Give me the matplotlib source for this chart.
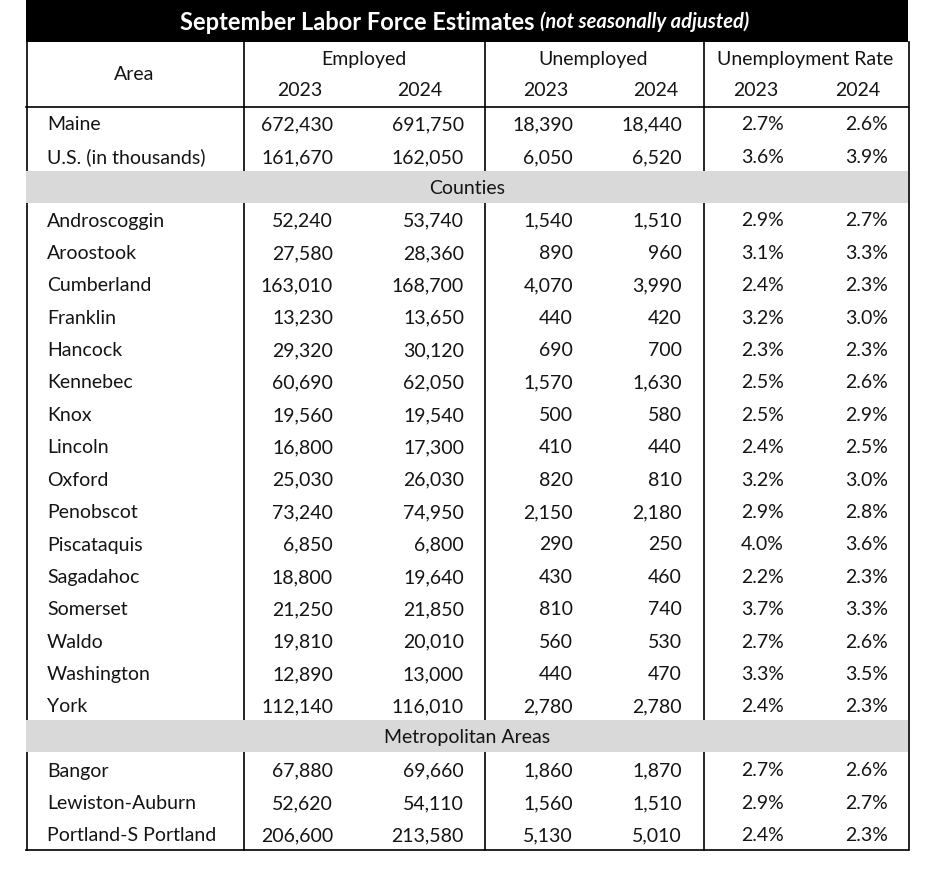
import matplotlib
matplotlib.use('Agg')
import matplotlib.pyplot as plt
from matplotlib.patches import Rectangle

# ---- data ----
title_main = "September Labor Force Estimates"
title_note = "(not seasonally adjusted)"
groups = ["Employed", "Unemployed", "Unemployment Rate"]
years = ["2023", "2024"]

top_areas = ["Maine", "U.S. (in thousands)"]
top_emp_2023 = [672430, 161670]
top_emp_2024 = [691750, 162050]
top_unemp_2023 = [18390, 6050]
top_unemp_2024 = [18440, 6520]
top_rate_2023 = [2.7, 3.6]
top_rate_2024 = [2.6, 3.9]

counties = ["Androscoggin", "Aroostook", "Cumberland", "Franklin", "Hancock",
            "Kennebec", "Knox", "Lincoln", "Oxford", "Penobscot", "Piscataquis",
            "Sagadahoc", "Somerset", "Waldo", "Washington", "York"]
cty_emp_2023 = [52240, 27580, 163010, 13230, 29320, 60690, 19560, 16800,
                25030, 73240, 6850, 18800, 21250, 19810, 12890, 112140]
cty_emp_2024 = [53740, 28360, 168700, 13650, 30120, 62050, 19540, 17300,
                26030, 74950, 6800, 19640, 21850, 20010, 13000, 116010]
cty_unemp_2023 = [1540, 890, 4070, 440, 690, 1570, 500, 410,
                  820, 2150, 290, 430, 810, 560, 440, 2780]
cty_unemp_2024 = [1510, 960, 3990, 420, 700, 1630, 580, 440,
                  810, 2180, 250, 460, 740, 530, 470, 2780]
cty_rate_2023 = [2.9, 3.1, 2.4, 3.2, 2.3, 2.5, 2.5, 2.4,
                 3.2, 2.9, 4.0, 2.2, 3.7, 2.7, 3.3, 2.4]
cty_rate_2024 = [2.7, 3.3, 2.3, 3.0, 2.3, 2.6, 2.9, 2.5,
                 3.0, 2.8, 3.6, 2.3, 3.3, 2.6, 3.5, 2.3]

metros = ["Bangor", "Lewiston-Auburn", "Portland-S Portland"]
met_emp_2023 = [67880, 52620, 206600]
met_emp_2024 = [69660, 54110, 213580]
met_unemp_2023 = [1860, 1560, 5130]
met_unemp_2024 = [1870, 1510, 5010]
met_rate_2023 = [2.7, 2.9, 2.4]
met_rate_2024 = [2.6, 2.7, 2.3]

# ---- layout (pixel coordinates) ----
W, H = 936, 876
left, right = 26, 908
col_div = [243, 484, 703]
num_right = [333, 464, 573, 682, 784, 888]
year_centers = [300, 420, 546, 656, 756, 858]
name_x = 47
row_h = 32.4
txt = '#141414'
band_color = '#d9d9d9'
font = ['Lato', 'DejaVu Sans']
fs = 14

fig = plt.figure(figsize=(W / 100, H / 100), dpi=100)
ax = fig.add_axes([0, 0, 1, 1])
ax.set_xlim(0, W)
ax.set_ylim(H, 0)
ax.axis('off')

# title bar, both parts centred together over the table
ax.add_patch(Rectangle((left, 0), right - left, 42, color='black', lw=0))
t1 = ax.text(0, 22, title_main + " ", color='white', fontsize=17, fontweight='bold',
             family=font, ha='left', va='center')
t2 = ax.text(0, 22, title_note, color='white', fontsize=14.5, fontweight='bold',
             style='italic', family=font, ha='left', va='center')
r = fig.canvas.get_renderer()
w1 = t1.get_window_extent(r).width
w2 = t2.get_window_extent(r).width
x0 = 465 - (w1 + w2) / 2
t1.set_x(x0)
t2.set_x(x0 + w1)

# header
ax.text((left + col_div[0]) / 2, 75, "Area", color=txt, fontsize=fs, family=font,
        ha='center', va='center')
bounds = [col_div[0], col_div[1], col_div[2], right]
for i, g in enumerate(groups):
    ax.text((bounds[i] + bounds[i + 1]) / 2, 59, g, color=txt, fontsize=fs,
            family=font, ha='center', va='center')
for i, xc in enumerate(year_centers):
    ax.text(xc, 91, years[i % 2], color=txt, fontsize=fs, family=font,
            ha='center', va='center')


def fmt_row(e23, e24, u23, u24, r23, r24):
    return [f"{e23:,}", f"{e24:,}", f"{u23:,}", f"{u24:,}", f"{r23:.1f}%", f"{r24:.1f}%"]


def draw_rows(names, cols, y0):
    for k, name in enumerate(names):
        y = y0 + k * row_h
        ax.text(name_x, y, name, color=txt, fontsize=fs, family=font,
                ha='left', va='center')
        vals = fmt_row(*[c[k] for c in cols])
        for j, v in enumerate(vals):
            ax.text(num_right[j], y, v, color=txt, fontsize=fs, family=font,
                    ha='right', va='center')


def draw_band(label, y_top, y_bot):
    ax.add_patch(Rectangle((left, y_top), right - left, y_bot - y_top,
                           color=band_color, lw=0, zorder=2))
    ax.text((left + right) / 2, (y_top + y_bot) / 2 + 1, label, color=txt, fontsize=fs,
            family=font, ha='center', va='center', zorder=3)


draw_rows(top_areas, [top_emp_2023, top_emp_2024, top_unemp_2023, top_unemp_2024,
                      top_rate_2023, top_rate_2024], 125)
draw_band("Counties", 171, 203)
draw_rows(counties, [cty_emp_2023, cty_emp_2024, cty_unemp_2023, cty_unemp_2024,
                     cty_rate_2023, cty_rate_2024], 221)
draw_band("Metropolitan Areas", 720, 752)
draw_rows(metros, [met_emp_2023, met_emp_2024, met_unemp_2023, met_unemp_2024,
                   met_rate_2023, met_rate_2024], 771)

# rules
lw = 1.2
ax.plot([left, right], [106.5, 106.5], color='black', lw=lw, zorder=1)
ax.plot([left, right], [849.5, 849.5], color='black', lw=lw, zorder=1)
for x in [left, right] + col_div:
    ax.plot([x + 0.5, x + 0.5], [42, 849.5], color='black', lw=lw, zorder=1)

fig.savefig('out.png', dpi=100)
